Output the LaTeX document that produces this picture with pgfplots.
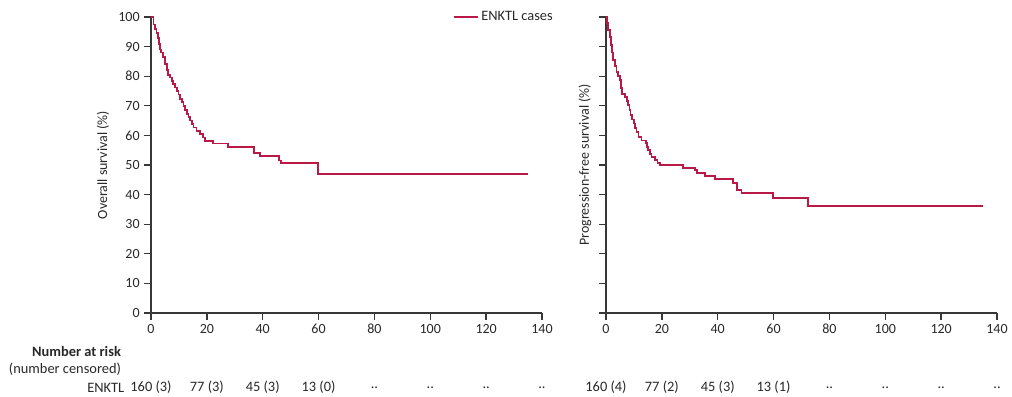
\documentclass[border=0pt]{standalone}
\usepackage{pgfplots}
\pgfplotsset{compat=1.18}
\usepackage{fontspec}
\setmainfont{Carlito}
\definecolor{km}{RGB}{185,25,70}
\definecolor{axc}{RGB}{55,55,55}
\definecolor{txt}{RGB}{40,40,40}
\pgfplotsset{kmaxis/.style={
  scale only axis, width=293.25pt, height=222pt,
  xmin=0, xmax=140, ymin=0, ymax=100,
  axis x line*=bottom, axis y line*=left,
  xtick={0,20,...,140}, ytick={0,10,...,100},
  tick align=outside, major tick length=5pt,
  axis line style={axc, line width=1.2pt},
  tick style={axc, line width=1pt},
  tick label style={font=\fontsize{10.5}{12}\selectfont, text=txt},
  /pgf/number format/assume math mode=true,
  label style={font=\fontsize{10.5}{12}\selectfont, text=txt},
  clip=false,
}}
\newcommand{\rf}{\fontsize{10.8}{12}\selectfont}
\tikzset{risk/.style={font=\rf, text=txt, anchor=center, yshift=-56pt}}
\begin{document}
\begin{tikzpicture}
\path[use as bounding box] (-113.25pt,-62.25pt) rectangle (645.75pt,234.75pt);
\begin{axis}[kmaxis, at={(0pt,0pt)}, anchor=south west,
  ylabel={Overall survival (\%)},
  ylabel style={at={(axis description cs:0,0.5)}, anchor=center, rotate=0, yshift=36pt},
  legend style={at={(axis cs:108,100)}, anchor=west, draw=none, fill=none,
    inner sep=0pt, font=\rf, text=txt, cells={anchor=west},
    nodes={inner sep=2pt}},
  legend image code/.code={\draw[#1] (0pt,0pt) -- (18pt,0pt);},
]
\addplot[const plot, km, line width=1.3pt] coordinates {
(0,100) (0.9,97.5) (1.5,96) (2.0,94.7) (2.5,93) (2.9,91) (3.3,89) (3.7,88)
(4.4,86.5) (5.0,84) (5.6,82) (6.2,80.5) (6.8,79.6) (7.4,78.5) (8.0,77.4)
(8.6,76.2) (9.2,75.1) (9.8,73.8) (10.4,72.4) (11.0,71.2) (11.6,70) (12.2,68.6)
(12.8,67.2) (13.4,66.1) (14.0,65) (14.6,63.8) (15.2,62.7) (16.3,61.6)
(17.5,60.4) (18.7,59.3) (19.3,58.2) (22.3,57.3) (27.7,56.2) (36.9,54.0)
(39.0,53.0) (45.9,51.5) (46.6,50.6) (59.9,47.0) (135,47.0)};
\addlegendentry{ENKTL cases}
\node[font=\rf\bfseries, text=txt, anchor=east] at (axis cs:0,0) [xshift=-19pt, yshift=-28.5pt] {Number at risk};
\node[font=\rf, text=txt, anchor=east] at (axis cs:0,0) [xshift=-19pt, yshift=-42.5pt] {(number censored)};
\node[font=\rf, text=txt, anchor=east] at (axis cs:0,0) [xshift=-16.5pt, yshift=-56pt] {ENKTL};
\node[risk] at (axis cs:0,0) {160 (3)};
\node[risk] at (axis cs:20,0) {77 (3)};
\node[risk] at (axis cs:40,0) {45 (3)};
\node[risk] at (axis cs:60,0) {13 (0)};
\node[risk] at (axis cs:80,0) {..};
\node[risk] at (axis cs:100,0) {..};
\node[risk] at (axis cs:120,0) {..};
\node[risk] at (axis cs:140,0) {..};
\end{axis}
\begin{axis}[kmaxis, at={(341.25pt,0pt)}, anchor=south west,
  yticklabels={},
  ylabel={Progression-free survival (\%)},
  ylabel style={at={(axis description cs:0,0.5)}, anchor=center, yshift=15.75pt},
]
\addplot[const plot, km, line width=1.3pt] coordinates {
(0,100) (0.4,98) (0.8,95.5) (1.4,93.2) (1.8,90.5) (2.2,88) (2.6,85.4)
(3.2,83.5) (3.8,81.4) (4.4,80) (5.0,78.6) (5.4,76) (5.8,74.1) (6.8,73)
(7.4,71.5) (8.0,70.2) (8.4,68.5) (8.8,66.8) (9.4,65.4) (10.0,64) (10.5,62.5)
(10.9,61.1) (11.6,59.5) (12.7,58.3) (14.3,57.4) (14.7,56) (15.1,55)
(15.7,53.8) (16.3,52.7) (17.5,51.6) (18.4,50.7) (19.3,49.9) (27.5,49.0)
(31.8,48.2) (32.6,47.3) (35.4,46.3) (39.0,45.2) (45.5,43.8) (46.8,41.6)
(48.5,40.6) (59.8,38.8) (72.3,36.1) (135,36.1)};
\node[risk] at (axis cs:0,0) {160 (4)};
\node[risk] at (axis cs:20,0) {77 (2)};
\node[risk] at (axis cs:40,0) {45 (3)};
\node[risk] at (axis cs:60,0) {13 (1)};
\node[risk] at (axis cs:80,0) {..};
\node[risk] at (axis cs:100,0) {..};
\node[risk] at (axis cs:120,0) {..};
\node[risk] at (axis cs:140,0) {..};
\end{axis}
\end{tikzpicture}
\end{document}
